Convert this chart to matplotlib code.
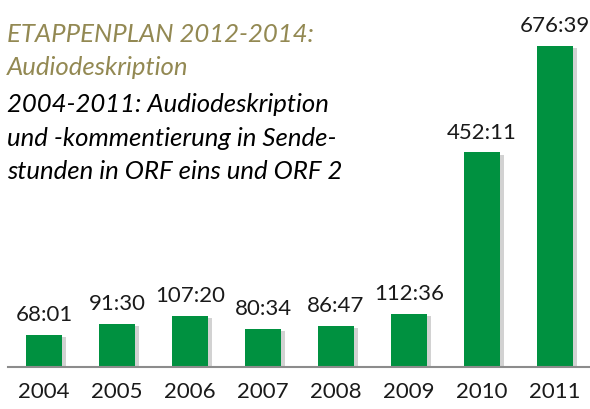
import matplotlib
matplotlib.use('Agg')
import matplotlib.pyplot as plt
import matplotlib.patheffects as pe

# Sendestunden (hh:mm) je Jahr
years = ['2004', '2005', '2006', '2007', '2008', '2009', '2010', '2011']
labels = ['68:01', '91:30', '107:20', '80:34', '86:47', '112:36', '452:11', '676:39']
hours = [int(s.split(':')[0]) + int(s.split(':')[1]) / 60 for s in labels]

title_lines = ['ETAPPENPLAN 2012-2014:', 'Audiodeskription']
sub_lines = ['2004-2011: Audiodeskription',
             'und -kommentierung in Sende-',
             'stunden in ORF eins und ORF 2']

plt.rcParams['font.family'] = ['Lato', 'DejaVu Sans']

W, H = 590, 409
fig = plt.figure(figsize=(W / 100, H / 100), dpi=100)
ax = fig.add_axes([7.5 / W, 42 / H, 584 / W, 367 / H])

bars = ax.bar(range(len(years)), hours, width=0.49, color='#009140')
for b in bars:
    b.set_path_effects([pe.SimplePatchShadow(offset=(3, -1.5), shadow_rgbFace='#808080', alpha=0.35),
                        pe.Normal()])

for i, (v, s) in enumerate(zip(hours, labels)):
    ax.annotate(s, (i, v), xytext=(0, 7), textcoords='offset points',
                ha='center', va='bottom', fontsize=16, color='#1a1a1a')

ax.set_xlim(-0.5, len(years) - 0.5)
ax.set_ylim(0, 773.6)
ax.set_xticks(range(len(years)))
ax.set_xticklabels(years, fontsize=16, color='#1a1a1a')
ax.tick_params(axis='x', length=0, pad=11)
ax.set_yticks([])
for side in ['top', 'left', 'right']:
    ax.spines[side].set_visible(False)
ax.spines['bottom'].set_color('#8c8c8c')
ax.spines['bottom'].set_linewidth(1.5)

# Titel oben links
baselines = [42, 75, 112, 146, 179]
for j, line in enumerate(title_lines + sub_lines):
    col = '#938953' if j < 2 else 'black'
    fig.text(7 / W, 1 - baselines[j] / H, line, fontsize=18.5, style='italic',
             color=col, ha='left', va='baseline')

fig.savefig('out.png', dpi=100)
